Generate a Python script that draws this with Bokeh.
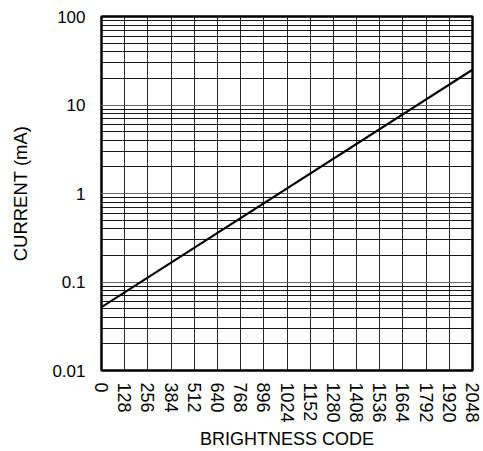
import math
from bokeh.plotting import figure
from bokeh.models import FixedTicker
from bokeh.embed import file_html
from bokeh.resources import INLINE

# data
code = [0, 2048]
current_ma = [0.052, 25.0]
x_ticks = [0, 128, 256, 384, 512, 640, 768, 896, 1024, 1152, 1280, 1408, 1536, 1664, 1792, 1920, 2048]
y_ticks = [0.01, 0.1, 1, 10, 100]
y_tick_labels = ["0.01", "0.1", "1", "10", "100"]
minor_mult = [2, 3, 4, 5, 6, 7, 8, 9]

minor_y = [d * m for d in y_ticks[:-1] for m in minor_mult]

p = figure(width=483, height=451, y_axis_type="log",
           x_range=(0, 2048), y_range=(0.01, 100),
           output_backend="svg", toolbar_location=None,
           min_border_left=101, min_border_right=11,
           min_border_top=16, min_border_bottom=79)

p.line(code, current_ma, line_color="black", line_width=2.2)

p.xaxis.ticker = FixedTicker(ticks=x_ticks)
p.yaxis.ticker = FixedTicker(ticks=y_ticks, minor_ticks=minor_y)
p.xgrid.ticker = FixedTicker(ticks=x_ticks)
p.ygrid.ticker = FixedTicker(ticks=y_ticks, minor_ticks=minor_y)
p.yaxis.major_label_overrides = {t: l for t, l in zip(y_ticks, y_tick_labels)}

p.xgrid.grid_line_color = "black"
p.xgrid.grid_line_width = 1
p.xgrid.grid_line_alpha = 0.85
p.ygrid.grid_line_color = "#666666"
p.ygrid.grid_line_width = 1
p.ygrid.minor_grid_line_color = "black"
p.ygrid.minor_grid_line_width = 1
p.ygrid.minor_grid_line_alpha = 0.9

p.outline_line_color = "black"
p.outline_line_width = 2.5

for ax in (p.xaxis, p.yaxis):
    ax.axis_line_color = None
    ax.major_tick_line_color = None
    ax.minor_tick_line_color = None
    ax.major_tick_out = 0
    ax.minor_tick_out = 0
    ax.major_label_text_font = "Liberation Sans"
    ax.major_label_text_color = "black"
    ax.axis_label_text_font = "Liberation Sans"
    ax.axis_label_text_font_style = "normal"
    ax.axis_label_text_color = "black"

p.xaxis.major_label_text_font_size = "18px"
p.yaxis.major_label_text_font_size = "17px"
p.xaxis.axis_label_text_font_size = "18px"
p.yaxis.axis_label_text_font_size = "18.5px"

p.xaxis.major_label_orientation = -math.pi / 2
p.xaxis.major_label_standoff = 12
p.yaxis.major_label_standoff = 16
p.xaxis.axis_label = "BRIGHTNESS CODE"
p.yaxis.axis_label = "CURRENT (mA)"
p.xaxis.axis_label_standoff = 3
p.yaxis.axis_label_standoff = 18

open("out.html", "w").write(file_html(p, INLINE))
